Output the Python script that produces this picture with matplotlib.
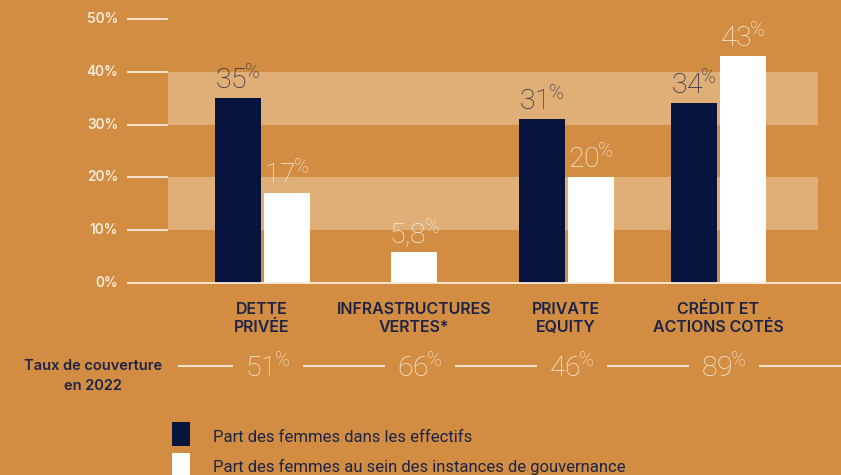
import matplotlib
matplotlib.use('Agg')
import matplotlib.pyplot as plt
from matplotlib.patches import Rectangle

plt.rcParams['mathtext.fontset'] = 'custom'
plt.rcParams['mathtext.rm'] = 'Roboto:light'
plt.rcParams['mathtext.it'] = 'Roboto:light'
plt.rcParams['mathtext.bf'] = 'Roboto:light'

# ---------------- data ----------------
categories = [["DETTE", "PRIVÉE"], ["INFRASTRUCTURES", "VERTES*"],
              ["PRIVATE", "EQUITY"], ["CRÉDIT ET", "ACTIONS COTÉS"]]
effectifs = [35, None, 31, 34]          # Part des femmes dans les effectifs
gouvernance = [17, 5.8, 20, 43]         # Part des femmes au sein des instances de gouvernance
effectifs_labels = ["35", None, "31", "34"]
gouvernance_labels = ["17", "5,8", "20", "43"]
couverture = ["51", "66", "46", "89"]   # Taux de couverture en 2022
yticks = [0, 10, 20, 30, 40, 50]
ytick_labels = ["0%", "10%", "20%", "30%", "40%", "50%"]
bands = [(10, 20), (30, 40)]
coverage_title = ["Taux de couverture", "en 2022"]
legend_labels = ["Part des femmes dans les effectifs",
                 "Part des femmes au sein des instances de gouvernance"]

# ---------------- style ----------------
BG = '#D28D42'
BAND = '#DFAF77'
NAVY = '#06133D'
TXT_NAVY = '#1C2347'
LBL_DARK = '#262C4A'
CREAM = '#F8ECDC'
WHITE = '#FFFFFF'
FONT = 'Inter'
NUMFONT = 'Roboto'

PXX = 152.0   # pixels per group
PXY = 5.28    # pixels per percent
X0 = 262.0    # pixel x of first group center
Y0 = 283.0    # pixel y of 0%
W, H = 841, 475

fig = plt.figure(figsize=(W / 100, H / 100), dpi=100, facecolor=BG)
ax = fig.add_axes([0, 0, 1, 1])
ax.set_facecolor(BG)
ax.set_xlim(-X0 / PXX, (W - X0) / PXX)
ax.set_ylim(-(H - Y0) / PXY, Y0 / PXY)
ax.axis('off')

def px(xpix):
    return (xpix - X0) / PXX

def py(ypix):
    return (Y0 - ypix) / PXY

renderer = fig.canvas.get_renderer()

# bands
for lo, hi in bands:
    ax.add_patch(Rectangle((px(168), lo), px(818) - px(168), hi - lo,
                           facecolor=BAND, edgecolor='none', zorder=1))

# ticks
for v, lab in zip(yticks, ytick_labels):
    x_end = ax.get_xlim()[1] if v == 0 else px(168)
    ax.plot([px(127), x_end], [v, v], color=CREAM, lw=1.3, zorder=3,
            solid_capstyle='butt')
    ax.text(px(118), v, lab, ha='right', va='center', fontsize=9.8,
            family=FONT, weight='semibold', color=CREAM)

# bars
bw = 46 / PXX
off = 24.5 / PXX
bar_info = []
for i in range(len(categories)):
    if effectifs[i] is None:
        xs_w = i
    else:
        xs_w = i + off
        ax.bar(i - off, effectifs[i], width=bw, color=NAVY, zorder=2)
        bar_info.append((i - off, effectifs[i], effectifs_labels[i], LBL_DARK))
    ax.bar(xs_w, gouvernance[i], width=bw, color=WHITE, zorder=2)
    bar_info.append((xs_w, gouvernance[i], gouvernance_labels[i], CREAM))

def pct_label(x, y, num, color, fs_num=20.5, dx_px=0.0):
    t = ax.annotate(num + r'$\hspace{-0.07}^{\%}$', (x, y),
                    xytext=(dx_px * 0.72, 0),
                    textcoords='offset points', ha='center', va='baseline',
                    fontsize=fs_num, family=NUMFONT, weight='light',
                    color=color, zorder=4)
    bb = t.get_window_extent(renderer=renderer)
    return bb

for x, v, lab, col in bar_info:
    pct_label(x, v + 9 / PXY, lab, col)

# category labels
for i, (l1, l2) in enumerate(categories):
    ax.text(i, py(313.5), l1, ha='center', va='baseline', fontsize=11.5,
            family=FONT, weight='semibold', color=TXT_NAVY)
    ax.text(i, py(332), l2, ha='center', va='baseline', fontsize=11.5,
            family=FONT, weight='semibold', color=TXT_NAVY)

# coverage row
ax.text(px(93), py(370), coverage_title[0], ha='center', va='baseline',
        fontsize=10.5, family=FONT, weight='semibold', color=TXT_NAVY)
ax.text(px(93), py(390), coverage_title[1], ha='center', va='baseline',
        fontsize=10.5, family=FONT, weight='semibold', color=TXT_NAVY)
line_y = py(365.7)
prev_end = px(178)
gap = 12
inv = ax.transData.inverted()
for i, c in enumerate(couverture):
    bb = pct_label(i, py(377), c, CREAM, dx_px=6)
    xs = inv.transform((bb.x0 - gap, 0))[0]
    xe = inv.transform((bb.x1 + gap, 0))[0]
    ax.plot([prev_end, xs], [line_y, line_y], color=CREAM, lw=1.3,
            solid_capstyle='butt')
    prev_end = xe
ax.plot([prev_end, ax.get_xlim()[1]], [line_y, line_y], color=CREAM, lw=1.3,
        solid_capstyle='butt')

# legend
leg_colors = [NAVY, WHITE]
leg_boxes = [(422, 446), (453, 477)]
leg_base = [442, 472]
for col, (t, b), base, lab in zip(leg_colors, leg_boxes, leg_base, legend_labels):
    ax.add_patch(Rectangle((px(172), py(b)), px(190) - px(172), py(t) - py(b),
                           facecolor=col, edgecolor='none', clip_on=False))
    ax.text(px(213), py(base), lab, ha='left', va='baseline', fontsize=12,
            family=NUMFONT, color=TXT_NAVY)

fig.savefig('out.png', dpi=100, facecolor=BG)
